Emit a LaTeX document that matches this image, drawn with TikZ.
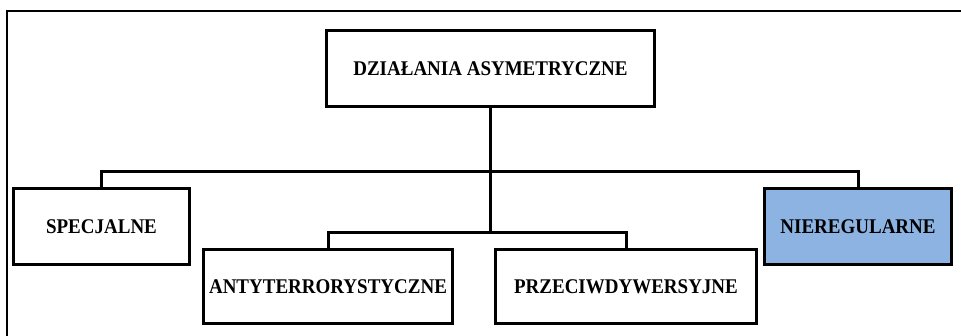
\documentclass[tikz,border=0pt]{standalone}
\usepackage{graphicx}
\usepackage{fontspec}
\setmainfont{Liberation Serif}
\definecolor{nierfill}{HTML}{8DB3E2}
\newcommand{\talltxt}[1]{\scalebox{1}[1.1]{#1}}
\begin{document}
\begin{tikzpicture}[x=1pt,y=-1pt,
  box/.style={draw=black, line width=3pt, rectangle, inner sep=0pt,
    font=\fontsize{19}{22}\selectfont\bfseries, minimum height=76pt},
  conn/.style={draw=black, line width=3pt},
  frameline/.style={draw=black, line width=2pt}]
\useasboundingbox (0,0) rectangle (961,336);
\coordinate (f0) at (7,336);
\coordinate (f1) at (7,11);
\coordinate (f2) at (961,11);
\draw[frameline] (f0) -- (f1) -- (f2);
\node[box, minimum width=328pt] (top) at (490.5,68.5) {\talltxt{DZIAŁANIA ASYMETRYCZNE}};
\node[box, minimum width=176pt] (spec) at (101.5,226.5) {\talltxt{SPECJALNE}};
\node[box, minimum width=187pt, fill=nierfill] (nier) at (858,226.5) {\talltxt{NIEREGULARNE}};
\node[box, minimum width=249pt, minimum height=74pt] (anty) at (328,286.5) {\talltxt{ANTYTERRORYSTYCZNE}};
\node[box, minimum width=261pt, minimum height=74pt] (prze) at (626,286.5) {\talltxt{PRZECIWDYWERSYJNE}};
\coordinate (b1) at (490.5,172);
\coordinate (b2) at (490.5,233);
\draw[conn] (top.south) -- (b2);
\draw[conn] (spec.north) |- (b1) -| (nier.north);
\draw[conn] (anty.north) |- (b2) -| (prze.north);
\end{tikzpicture}
\end{document}
